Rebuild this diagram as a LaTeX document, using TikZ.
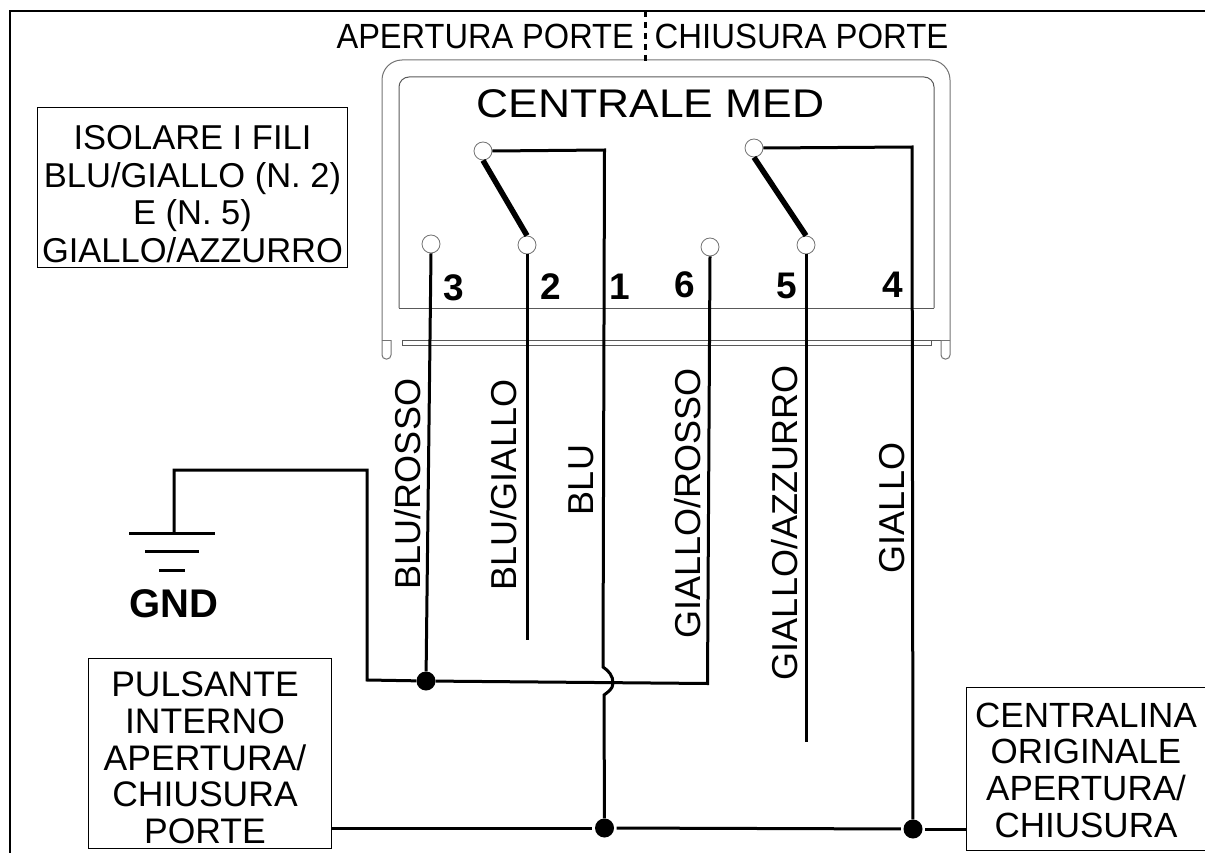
\documentclass[tikz,border=0pt]{standalone}
\usepackage{fontspec}
\setmainfont{Liberation Sans}
\tikzset{
  x=1pt,y=-1pt,
  term/.style={circle,draw=black!55,fill=white,line width=0.8pt,minimum size=18pt,inner sep=0pt},
  jdot/.style={circle,fill=black,minimum size=19pt,inner sep=0pt},
  wire/.style={line width=3pt,line join=miter},
  swarm/.style={line width=5.5pt},
  thin box/.style={draw=black!65,line width=1pt},
  casing/.style={draw=black!55,line width=1pt},
  plainbox/.style={draw=black,line width=1.3pt,inner sep=0pt},
  boxtext/.style={align=center,inner sep=0pt},
  lab/.style={inner sep=0pt,font=\fontsize{35}{36}\selectfont},
  vlab/.style={inner sep=0pt,font=\fontsize{36}{36}\selectfont,rotate=90},
  num/.style={inner sep=0pt,font=\fontsize{37}{37}\selectfont\bfseries},
}
\begin{document}
\begin{tikzpicture}
\useasboundingbox (0,0) rectangle (1205,853);
% outer frame
\draw[line width=2pt] (10,853) -- (10,11) -- (1205,11);
% module outline
\draw[casing,rounded corners=20pt] (382,340) -- (382,60) -- (950,60) -- (950,340);
\draw[casing] (382,340) -- (391,340);
\draw[casing] (941,340) -- (950,340);
\draw[thin box,rounded corners=10pt] (399,308) -- (399,77) -- (934,77) -- (934,308);
\draw[thin box] (399,308) -- (934,308);
\draw[thin box] (402,340) -- (402,345) -- (931,345) -- (931,340);
\draw[thin box] (402,340) -- (941,340);
\draw[casing,rounded corners=4pt] (382,340) -- (382,359) -- (391,359) -- (391,340);
\draw[casing,rounded corners=4pt] (941,340) -- (941,359) -- (950,359) -- (950,340);
% header
\node[lab,anchor=east] (apertura) at (634,36) {\scalebox{0.93}[1]{APERTURA PORTE}};
\node[lab,anchor=west] (chiusura) at (654.5,36) {\scalebox{0.94}[1]{CHIUSURA PORTE}};
\coordinate (divtop) at (645.5,11);
\coordinate (divbot) at (645.5,65);
\draw[line width=3pt,dash pattern=on 6pt off 5pt] (divtop) -- (divbot);
\node[inner sep=0pt,font=\fontsize{40}{40}\selectfont] (centrale) at (650.5,104) {\scalebox{1.11}[1]{CENTRALE MED}};
% terminals
\node[term] (t3) at (431,244) {};
\node[term] (t2) at (527,245) {};
\node[term] (s1) at (483,151) {};
\node[term] (t6) at (710,247) {};
\node[term] (t5) at (806,245) {};
\node[term] (s2) at (754,148) {};
% switch arms
\draw[swarm] (s1.south) -- (t2.north);
\draw[swarm] (s2.south) -- (t5.north);
% numbers
\node[num] (n3) at (454,288) {3};
\node[num] (n2) at (551,287) {2};
\node[num] (n1) at (620,287) {1};
\node[num] (n6) at (685,285) {6};
\node[num] (n5) at (787,286) {5};
\node[num] (n4) at (893,285) {4};
% junctions
\node[jdot] (j3) at (426,681) {};
\node[jdot] (j1) at (604.5,828) {};
\node[jdot] (j4) at (913,829) {};
% boxes
\node[plainbox,minimum width=310pt,minimum height=160pt,anchor=north west] (iso) at (37,107) {};
\node[boxtext,font=\fontsize{34.5}{37.5}\selectfont] (isotext) at (192.5,194) {ISOLARE I FILI\\BLU/GIALLO (N. 2)\\E (N. 5)\\GIALLO/AZZURRO};
\node[plainbox,minimum width=243pt,minimum height=190pt,anchor=north west] (puls) at (88,658) {};
\node[boxtext,font=\fontsize{35.5}{36.7}\selectfont] (pulstext) at (205,758) {PULSANTE\\INTERNO\\APERTURA/\\CHIUSURA\\PORTE};
\node[plainbox,minimum width=239pt,minimum height=163pt,anchor=north west] (cent) at (966,687) {};
\node[boxtext,font=\fontsize{35}{36.7}\selectfont] (centtext) at (1086,770) {CENTRALINA\\ORIGINALE\\APERTURA/\\CHIUSURA};
% wires
\coordinate (e2) at (527,640);
\coordinate (e5) at (806,742);
\draw[wire] (t3.south) -- (j3);
\draw[wire] (t2.south) -- (e2);
\draw[wire] (t5.south) -- (e5);
\draw[wire] (s1.east) -- (604.5,150) -- (603,667) .. controls (609,671) and (613,676) .. (613,683) .. controls (613,689) and (608,692) .. (604,695) -- (j1);
\draw[wire] (s2.east) -- (912,147) -- (j4);
\draw[wire] (t6.south) -- (707.5,683.5) -- (j3) -- (367,680) -- (367,470) -- (174,470) -- (174,533);
\draw[wire,shorten >=2.5pt] (puls.east |- j1) -- (j1);
\draw[wire,shorten >=2.5pt,shorten <=2.5pt] (j1) -- (j4);
\draw[wire,shorten <=2.5pt] (j4) -- (cent.west |- j4);
% ground
\coordinate (g1l) at (129,533.5);\coordinate (g1r) at (215,533.5);
\coordinate (g2l) at (145,551);\coordinate (g2r) at (199,551);
\coordinate (g3l) at (159,570);\coordinate (g3r) at (185,570);
\draw[wire] (g1l) -- (g1r);
\draw[wire] (g2l) -- (g2r);
\draw[wire] (g3l) -- (g3r);
\node[inner sep=0pt,font=\fontsize{40}{40}\selectfont\bfseries] (gnd) at (173.5,604) {GND};
% wire labels
\node[vlab] (l3) at (408,484) {BLU/ROSSO};
\node[vlab] (l2) at (503.5,485) {BLU/GIALLO};
\node[vlab] (l1) at (581,480) {BLU};
\node[vlab] (l6) at (687.5,503.5) {GIALLO/ROSSO};
\node[vlab] (l5) at (785,523) {GIALLO/AZZURRO};
\node[vlab] (l4) at (892.5,508) {GIALLO};
\end{tikzpicture}
\end{document}
